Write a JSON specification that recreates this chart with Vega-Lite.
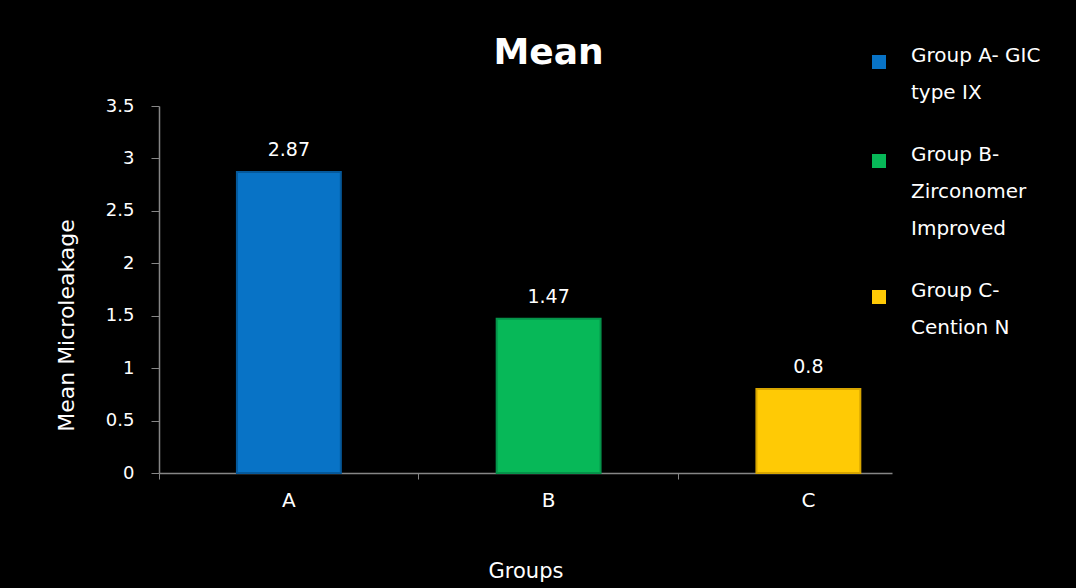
{
  "$schema": "https://vega.github.io/schema/vega-lite/v6.json",
  "width": 733,
  "height": 367,
  "autosize": {"type": "none"},
  "padding": {"left": 159, "top": 106, "right": 184, "bottom": 115},
  "background": "#000000",
  "title": {
    "text": "Mean",
    "font": "DejaVu Sans",
    "fontSize": 36,
    "fontWeight": "bold",
    "color": "#ffffff",
    "frame": "group",
    "anchor": "middle",
    "dx": 23,
    "baseline": "alphabetic",
    "offset": -48
  },
  "data": {
    "values": [
      {"group": "A", "legend": "Group A- GIC\ntype IX", "mean": 2.87},
      {"group": "B", "legend": "Group B-\nZirconomer\nImproved", "mean": 1.47},
      {"group": "C", "legend": "Group C-\nCention N", "mean": 0.8}
    ]
  },
  "encoding": {
    "x": {
      "field": "group",
      "type": "nominal",
      "sort": null,
      "scale": {"paddingInner": 0.6, "paddingOuter": 0.211, "align": 0.711},
      "axis": {
        "title": "Groups",
        "titleColor": "#ffffff",
        "titleFont": "DejaVu Sans",
        "titleFontSize": 21,
        "titleFontWeight": "normal",
        "titleBaseline": "alphabetic",
        "titleY": 104,
        "labelAngle": 0,
        "labelColor": "#ffffff",
        "labelFont": "DejaVu Sans",
        "labelFontSize": 20,
        "labelPadding": 11,
        "bandPosition": -0.75,
        "tickSize": 6,
        "tickColor": "#868686",
        "domainColor": "#868686",
        "domainWidth": 1.5,
        "grid": false
      }
    },
    "y": {
      "field": "mean",
      "type": "quantitative",
      "scale": {"domain": [0, 3.5], "nice": false},
      "axis": {
        "values": [0, 0.5, 1, 1.5, 2, 2.5, 3, 3.5],
        "format": "~g",
        "title": "Mean Microleakage",
        "titleColor": "#ffffff",
        "titleFont": "DejaVu Sans",
        "titleFontSize": 22,
        "titleFontWeight": "normal",
        "titleBaseline": "alphabetic",
        "titleX": -86,
        "titleY": 219,
        "labelColor": "#ffffff",
        "labelFont": "DejaVu Sans",
        "labelFontSize": 18,
        "labelPadding": 17,
        "tickSize": 8,
        "tickColor": "#868686",
        "domainColor": "#868686",
        "domainWidth": 1.5,
        "grid": false
      }
    }
  },
  "layer": [
    {
      "mark": {"type": "bar", "strokeWidth": 2},
      "encoding": {
        "stroke": {
          "field": "legend",
          "type": "nominal",
          "sort": null,
          "scale": {"range": ["#05599B", "#05934A", "#D8A600"]},
          "legend": null
        },
        "color": {
          "field": "legend",
          "type": "nominal",
          "sort": null,
          "scale": {"range": ["#0873C6", "#07B858", "#FFCA05"]},
          "legend": {
            "orient": "none",
            "legendX": 710,
            "legendY": -54,
            "title": null,
            "symbolType": "square",
            "symbolSize": 196,
            "symbolStrokeWidth": 0,
            "labelOffset": 22,
            "labelColor": "#ffffff",
            "labelFont": "DejaVu Sans",
            "labelFontSize": 20,
            "labelBaseline": "alphabetic",
            "labelLimit": 400,
            "rowPadding": 42,
            "padding": 0,
            "labelExpr": "split(datum.label, '\\n')"
          }
        }
      }
    },
    {
      "mark": {
        "type": "text",
        "baseline": "alphabetic",
        "dy": -16,
        "color": "#ffffff",
        "font": "DejaVu Sans",
        "fontSize": 19
      },
      "encoding": {
        "text": {"field": "mean", "type": "quantitative", "format": "~g"}
      }
    }
  ],
  "config": {
    "style": {"guide-label": {"lineHeight": 37}},
    "view": {"stroke": null}
  }
}
